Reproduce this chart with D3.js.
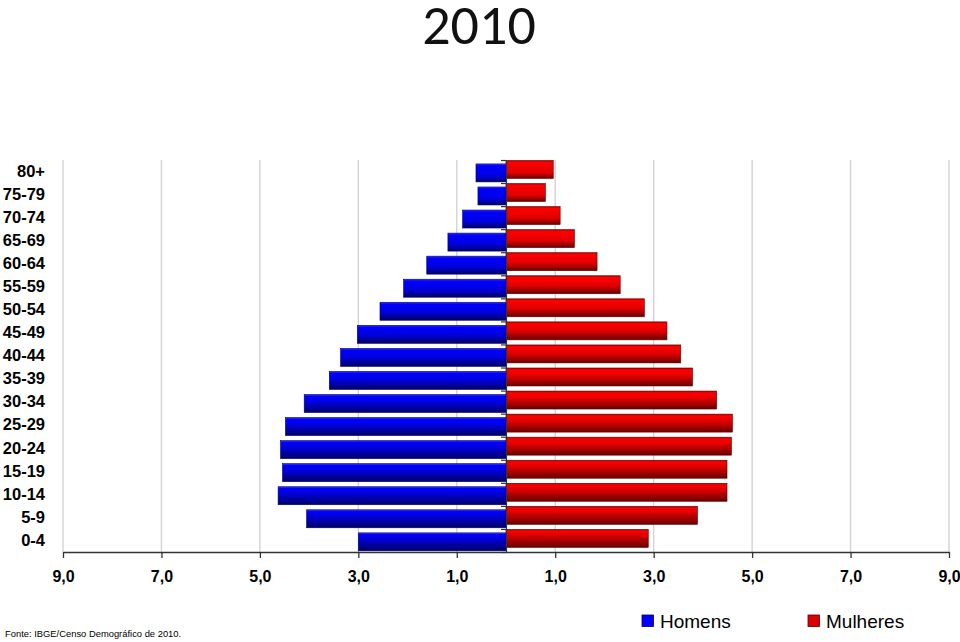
<!DOCTYPE html>
<html>
<head>
<meta charset="utf-8">
<script src="https://cdn.jsdelivr.net/npm/d3@7"></script>
<style>
  html, body { margin: 0; padding: 0; background: #fff; }
  svg { display: block; }
</style>
</head>
<body>
<svg id="chart" width="960" height="642"></svg>
<script>
const title = "2010";
const source = "Fonte: IBGE/Censo Demográfico de 2010.";
const ageGroups = ["0-4","5-9","10-14","15-19","20-24","25-29","30-34","35-39","40-44","45-49","50-54","55-59","60-64","65-69","70-74","75-79","80+"];
const homens   = [3.00, 4.05, 4.63, 4.54, 4.58, 4.48, 4.10, 3.59, 3.36, 3.02, 2.56, 2.08, 1.61, 1.18, 0.88, 0.57, 0.61];
const mulheres = [2.89, 3.89, 4.49, 4.49, 4.58, 4.60, 4.28, 3.79, 3.55, 3.27, 2.81, 2.32, 1.85, 1.39, 1.10, 0.80, 0.96];
const tickValues = [-9, -7, -5, -3, -1, 1, 3, 5, 7, 9];
const seriesNames = ["Homens", "Mulheres"];

(function () {
const svg = d3.select("#chart");
const pLeft = 63, pRight = 949, pTop = 160, pBottom = 552;

const x = d3.scaleLinear().domain([-9, 9]).range([pLeft, pRight]);
const y = d3.scaleBand().domain(ageGroups.slice().reverse()).range([pTop, pBottom]).paddingInner(0).paddingOuter(0);
const bw = y.bandwidth();

const defs = svg.append("defs");
ageGroups.forEach((g, i) => {
  const f = i / (ageGroups.length - 1);
  const brightEnd = 0.28 + 0.40 * f;
  const gb = defs.append("linearGradient").attr("id", "gb" + i).attr("x1", 0).attr("y1", 0).attr("x2", 0).attr("y2", 1);
  gb.append("stop").attr("offset", 0).attr("stop-color", "#3a3aff");
  gb.append("stop").attr("offset", 0.1).attr("stop-color", "#0000ff");
  gb.append("stop").attr("offset", brightEnd).attr("stop-color", "#0000e0");
  gb.append("stop").attr("offset", 1).attr("stop-color", "#000068");
  const gr = defs.append("linearGradient").attr("id", "gr" + i).attr("x1", 0).attr("y1", 0).attr("x2", 0).attr("y2", 1);
  gr.append("stop").attr("offset", 0).attr("stop-color", "#b00000");
  gr.append("stop").attr("offset", 0.1).attr("stop-color", "#ff0000");
  gr.append("stop").attr("offset", brightEnd).attr("stop-color", "#e00000");
  gr.append("stop").attr("offset", 1).attr("stop-color", "#6a0000");
});

// Title
svg.append("text").attr("x", 479).attr("y", 44).attr("text-anchor", "middle")
  .style("font-family", "Carlito, Calibri, Lato, sans-serif").style("font-size", "56px").style("fill", "#111")
  .text(title);

// Gridlines
svg.append("g").selectAll("line").data(tickValues).join("line")
  .attr("x1", d => x(d)).attr("x2", d => x(d)).attr("y1", pTop).attr("y2", pBottom)
  .attr("stroke", "#d3d3d3").attr("stroke-width", 1.4);

// Bars
const data = ageGroups.map((g, i) => ({ g, i, h: homens[i], m: mulheres[i] }));
svg.append("g").selectAll("rect").data(data).join("rect")
  .attr("x", d => x(0)).attr("width", d => x(d.m) - x(0))
  .attr("y", d => y(d.g) + bw * 0.02).attr("height", bw * 0.78)
  .attr("fill", d => `url(#gr${d.i})`).attr("stroke", "#5a0000").attr("stroke-width", 0.6);
svg.append("g").selectAll("rect").data(data).join("rect")
  .attr("x", d => x(-d.h)).attr("width", d => x(0) - x(-d.h))
  .attr("y", d => y(d.g) + bw * 0.17).attr("height", bw * 0.78)
  .attr("fill", d => `url(#gb${d.i})`).attr("stroke", "#00005a").attr("stroke-width", 0.6);

// Bottom axis
const xAxis = d3.axisBottom(x).tickValues(tickValues)
  .tickFormat(d => Math.abs(d).toFixed(1).replace(".", ","))
  .tickSize(6).tickSizeOuter(0).tickPadding(13);
const gx = svg.append("g").attr("transform", `translate(0,${pBottom})`).call(xAxis);
gx.select(".domain").attr("stroke", "#333").attr("stroke-width", 1.3);
gx.selectAll(".tick line").attr("stroke", "#333").attr("stroke-width", 1.3);
gx.selectAll("text").style("font-family", "'Liberation Sans', Arial, sans-serif")
  .style("font-size", "16px").style("font-weight", "bold").style("fill", "#000");

// Center vertical axis with boundary ticks
const yb = d3.scaleLinear().domain([0, ageGroups.length]).range([pBottom, pTop]);
const gy = svg.append("g").attr("transform", `translate(${x(0)},0)`)
  .call(d3.axisLeft(yb).ticks(ageGroups.length).tickFormat("").tickSize(5).tickSizeOuter(0));
gy.select(".domain").attr("stroke", "#333").attr("stroke-width", 1.2);
gy.selectAll(".tick line").attr("stroke", "#333").attr("stroke-width", 1.2);

// Category labels
const gl = svg.append("g").attr("transform", "translate(45,0)")
  .call(d3.axisLeft(y).tickSize(0).tickPadding(0));
gl.select(".domain").remove();
gl.selectAll("text").style("font-family", "'Liberation Sans', Arial, sans-serif")
  .style("font-size", "16.5px").style("font-weight", "bold").style("fill", "#000");

// Legend
const legendX = [642, 808];
const legendFill = ["#0000ff", "#dd0000"];
const legendStroke = ["#00005a", "#5a0000"];
const lg = svg.append("g").selectAll("g").data(seriesNames).join("g")
  .attr("transform", (d, i) => `translate(${legendX[i]},615)`);
lg.append("rect").attr("width", 11.5).attr("height", 11.5)
  .attr("fill", (d, i) => legendFill[i]).attr("stroke", (d, i) => legendStroke[i]).attr("stroke-width", 0.8);
lg.append("text").attr("x", 18).attr("y", 12.5).text(d => d)
  .style("font-family", "'Liberation Sans', Arial, sans-serif").style("font-size", "19px").style("fill", "#000");

// Source
svg.append("text").attr("x", 5).attr("y", 637).text(source)
  .style("font-family", "'Liberation Sans', Arial, sans-serif").style("font-size", "9.4px").style("fill", "#000");
})();
</script>
</body>
</html>
